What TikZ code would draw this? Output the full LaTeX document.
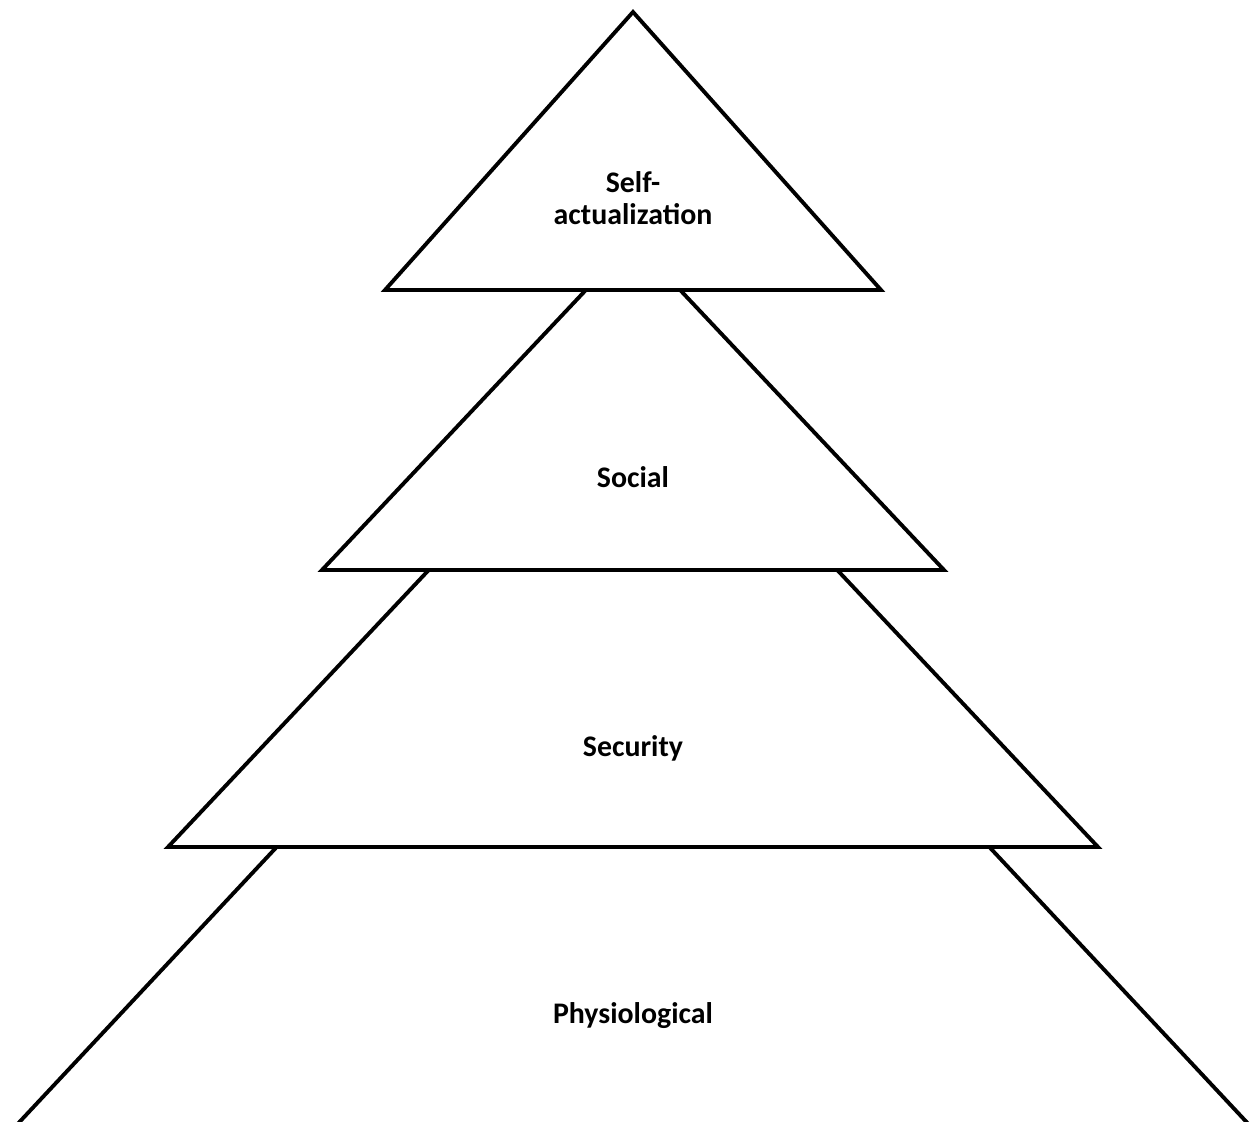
\documentclass[tikz,border=0pt]{standalone}
\usepackage{fontspec}
\setmainfont{Carlito}
\begin{document}
\begin{tikzpicture}[x=0.02cm,y=-0.02cm,
  tier/.style={draw=black,fill=white,line width=2.2pt,line join=miter},
  label/.style={font=\bfseries\fontsize{17}{18.3}\selectfont,align=center,inner sep=0pt}]
\useasboundingbox (0,0) rectangle (1255,1122);
\clip (0,0) rectangle (1255,1122);
% tiers, drawn from the bottom up so each upper one covers the apex below it
\draw[tier] (633,466) -- (1413,1300) -- (-147,1300) -- cycle;
\draw[tier] (633,353) -- (1098,847) -- (168,847) -- cycle;
\draw[tier] (633,240) -- (944,570) -- (322,570) -- cycle;
\draw[tier] (633,12) -- (881,290) -- (385,290) -- cycle;
% tier labels
\node[label] (self) at (633,198) {Self-\\actualization};
\node[label] (social) at (633,477) {Social};
\node[label] (security) at (633,748) {Security};
\node[label] (physio) at (633,1016) {Physiological};
\end{tikzpicture}
\end{document}
